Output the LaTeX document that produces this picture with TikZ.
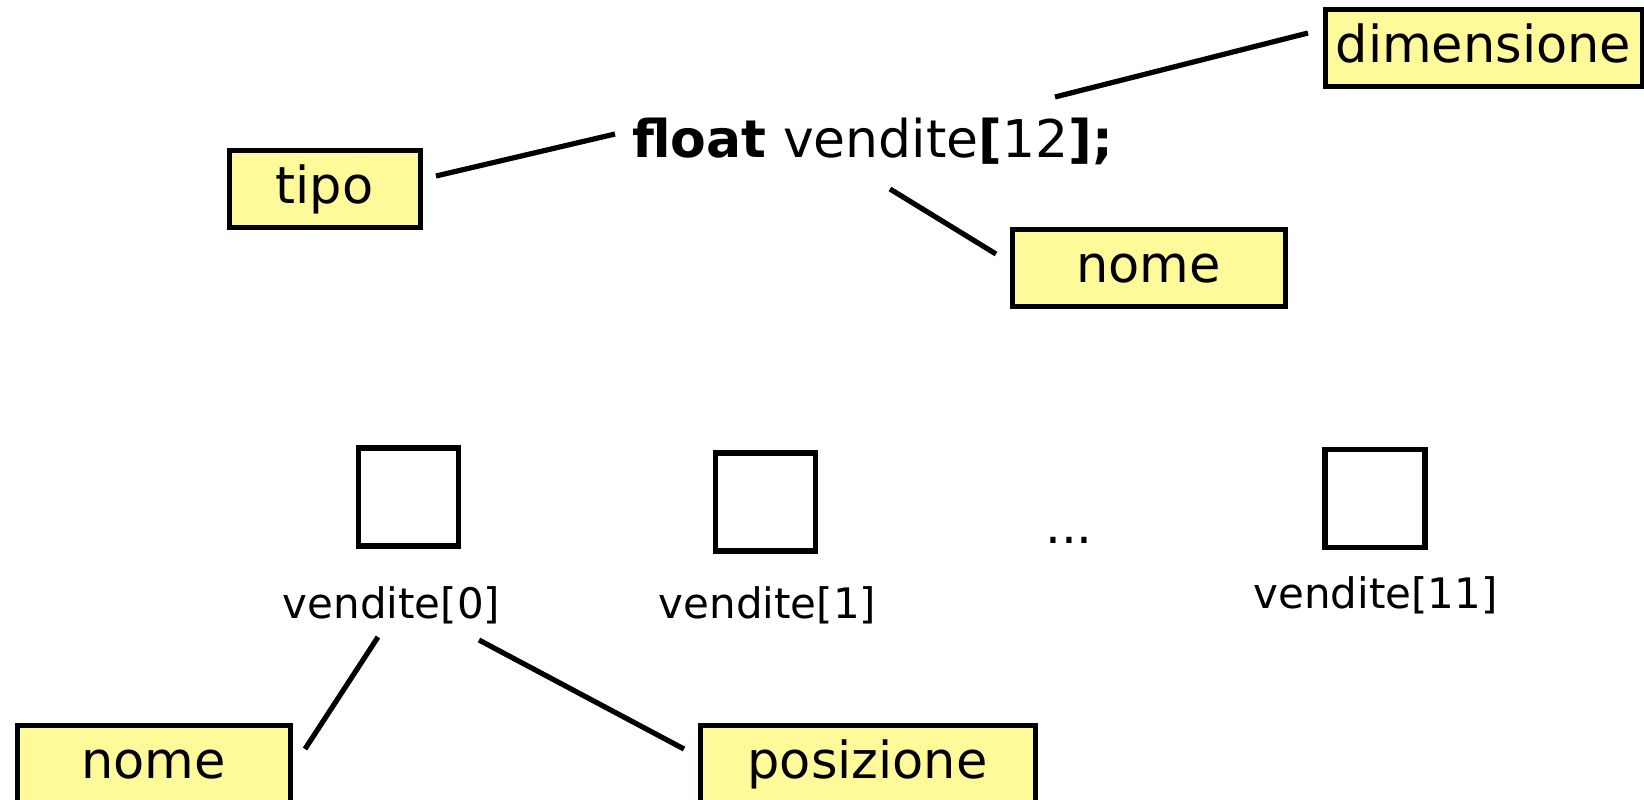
\documentclass[tikz,border=0pt]{standalone}
\usepackage{fontspec}
\setmainfont{DejaVu Sans}

\begin{document}
\begin{tikzpicture}[x=0.5pt, y=-0.5pt,
  etichetta/.style={draw=black, line width=2.5pt, fill=yellow!40, inner sep=0pt, outer sep=0pt,
    minimum height=38.5pt, text height=20.4pt, text depth=5.1pt, font=\fontsize{25.5pt}{30pt}\selectfont},
  cella/.style={draw=black, line width=2.8pt, inner sep=0pt, outer sep=0pt, minimum width=50pt, minimum height=49pt},
  indice/.style={anchor=base, inner sep=0pt, font=\fontsize{21pt}{25pt}\selectfont},
  linea/.style={line width=2.6pt}]
  \useasboundingbox (0,0) rectangle (1644,799);

  % Dichiarazione
  \node[anchor=base west, inner sep=0pt, font=\fontsize{26pt}{30pt}\selectfont] (codice) at (632,157)
    {\textbf{float} vendite\textbf{[}12\textbf{];}};
  \node[etichetta, minimum width=95.5pt] (tipo) at (324.5,188.5) {tipo};
  \node[etichetta, minimum width=136.5pt] (nomeA) at (1148.5,267.5) {nome};
  \node[etichetta, minimum width=158.5pt] (dim) at (1483.5,47.5) {dimensione};

  \draw[linea] ([shift={(8pt,6.25pt)}]tipo.east) -- ([shift={(-8.5pt,11.5pt)}]codice.base west);
  \draw[linea] ([shift={(211.5pt,30pt)}]codice.base west) -- ([shift={(-8.5pt,7.25pt)}]dim.west);
  \draw[linea] ([shift={(129pt,-16pt)}]codice.base west) -- ([shift={(-8pt,-12.5pt)}]nomeA.north west);

  % Celle del vettore
  \foreach \cnome/\x/\y/\lx/\ly/\testo in {c0/408.5/497/391.5/618/0, c1/765.5/502/767.5/618/1, c11/1375/498.5/1375.5/608/11} {
    \node[cella] (\cnome) at (\x,\y) {};
    \node[indice] (v\testo) at (\lx,\ly) {vendite[\testo]};
  }
  \node[anchor=base, inner sep=0pt, font=\fontsize{25pt}{30pt}\selectfont] (puntini) at (1069,543) {...};

  % Elemento
  \node[etichetta, minimum width=136.5pt] (nomeB) at (153.5,763.5) {nome};
  \node[etichetta, minimum width=167.5pt] (pos) at (867.5,763.5) {posizione};

  \draw[linea] ([shift={(-6.75pt,-9.5pt)}]v0.base) -- ([shift={(7.5pt,-12pt)}]nomeB.north east);
  \draw[linea] ([shift={(43.75pt,-11pt)}]v0.base) -- ([shift={(-8pt,-12pt)}]pos.north west);
\end{tikzpicture}
\end{document}
